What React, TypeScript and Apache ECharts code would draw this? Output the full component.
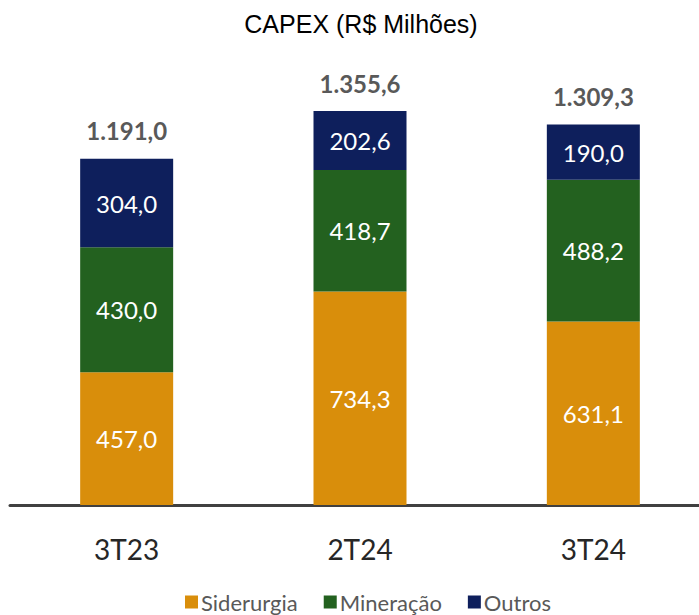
import React, { useEffect, useRef } from "react";
import * as echarts from "echarts";

const categories = ["3T23", "2T24", "3T24"];
const siderurgia = [457.0, 734.3, 631.1];
const mineracao = [430.0, 418.7, 488.2];
const outros = [304.0, 202.6, 190.0];
const seriesNames = ["Siderurgia", "Mineração", "Outros"];
const colors = ["#D98E0B", "#23611F", "#0E1F5C"];

function fmt(v: number): string {
  const [i, d] = v.toFixed(1).split(".");
  const withDots = i.replace(/\B(?=(\d{3})+(?!\d))/g, ".");
  return withDots + "," + d;
}

export default function App() {
  const ref = useRef<HTMLDivElement>(null);
  useEffect(() => {
    document.body.style.margin = "0";
    const chart = echarts.init(ref.current!, null, { renderer: "svg" });
    const totals = categories.map((_, i) => siderurgia[i] + mineracao[i] + outros[i]);
    const inner = {
      show: true,
      position: "inside" as const,
      color: "#FFFFFF",
      fontFamily: "Lato",
      fontSize: 24,
      formatter: (p: any) => fmt(p.value),
    };
    const mk = (name: string, data: number[], color: string) => ({
      name,
      type: "bar",
      stack: "total",
      data,
      barWidth: 93,
      itemStyle: { color },
      label: inner,
    });
    chart.setOption({
      animation: false,
      title: {
        text: "CAPEX (R$ Milhões)",
        left: 356,
        textAlign: "center",
        top: 6,
        textStyle: {
          fontFamily: "Liberation Sans",
          fontSize: 25,
          fontWeight: "normal",
          color: "#000000",
        },
      },
      legend: {
        data: seriesNames,
        bottom: 0,
        left: 180,
        itemWidth: 13,
        itemHeight: 13,
        itemGap: 26,
        icon: "rect",
        padding: [2, 5, 2, 5],
        textStyle: { fontFamily: "Lato", fontSize: 22, color: "#595959", padding: [0, 0, 0, -2] },
      },
      grid: { left: 10, width: 700, top: 40, bottom: 110 },
      xAxis: {
        type: "category",
        data: categories,
        axisTick: { show: false },
        axisLine: { lineStyle: { color: "#404040", width: 3 } },
        axisLabel: { fontFamily: "Lato", fontSize: 28, color: "#262626", margin: 30 },
      },
      yAxis: { type: "value", min: 0, max: 1600, show: false, splitLine: { show: false } },
      series: [
        mk(seriesNames[0], siderurgia, colors[0]),
        mk(seriesNames[1], mineracao, colors[1]),
        mk(seriesNames[2], outros, colors[2]),
        {
          name: "Total",
          type: "bar",
          stack: "total",
          data: totals.map(() => 0),
          barWidth: 93,
          silent: true,
          itemStyle: { color: "transparent" },
          label: {
            show: true,
            position: "top",
            distance: 16,
            fontFamily: "Lato",
            fontWeight: "bold",
            fontSize: 24,
            color: "#595959",
            formatter: (p: any) => fmt(totals[p.dataIndex]),
          },
        },
      ],
    });
    return () => chart.dispose();
  }, []);
  return (
    <div style={{ width: 699, height: 615, overflow: "hidden", position: "relative" }}>
      <div ref={ref} style={{ width: 720, height: 615 }} />
    </div>
  );
}
